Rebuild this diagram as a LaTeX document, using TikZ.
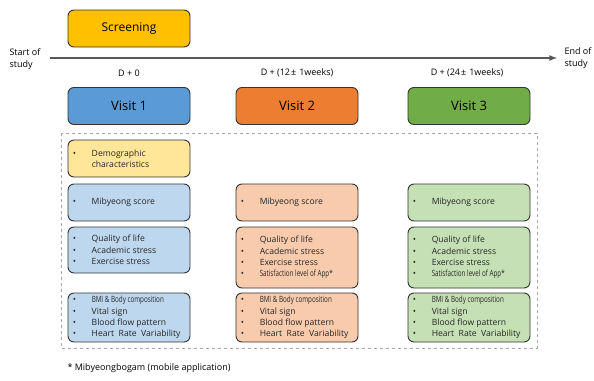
\documentclass[tikz,border=0pt]{standalone}
\usepackage{fontspec}
\setmainfont{Open Sans}
\tikzset{>=latex}
\definecolor{gold}{HTML}{FFC000}
\definecolor{blue1}{HTML}{5B9BD5}
\definecolor{orange1}{HTML}{ED7D31}
\definecolor{green1}{HTML}{70AD47}
\definecolor{yellowL}{HTML}{FFE699}
\definecolor{blueL}{HTML}{BDD7EE}
\definecolor{orangeL}{HTML}{F8CBAD}
\definecolor{greenL}{HTML}{C5E0B4}
\definecolor{edge}{HTML}{333333}
\newcommand{\bl}{\makebox[19pt][l]{\textbullet}}
\newcommand{\narrow}[1]{\scalebox{0.73}[1]{#1}}

\begin{document}
\begin{tikzpicture}[x=1pt,y=-1pt,
    card/.style={draw=edge,line width=0.9pt,rounded corners=6pt,minimum width=122pt,inner sep=0pt},
    head/.style={card,minimum height=37pt,font=\fontsize{13}{15}\selectfont},
    items/.style={align=left,anchor=west,inner sep=0pt,font=\fontsize{8.6}{11.4}\selectfont,text=black!85}
  ]
  \useasboundingbox (0,0) rectangle (594,380);
  % timeline
  \draw[->,line width=1.6pt,black!65] (50,58) -- (557,58);
  \node[align=left,anchor=west,font=\fontsize{9}{12}\selectfont] (start) at (6,59) {Start of\\study};
  \node[align=left,anchor=west,font=\fontsize{9}{12}\selectfont] (end) at (561,58) {End of\\study};
  \node[card,fill=gold,minimum height=37pt,font=\fontsize{12}{14}\selectfont] (screen) at (129,28.5) {Screening};
  % visits
  \node[font=\fontsize{9}{11}\selectfont] (d1) at (129,73) {D + 0};
  \node[font=\fontsize{9}{11}\selectfont] (d2) at (297,73) {D + (12\kern1pt±\kern3pt 1weeks)};
  \node[font=\fontsize{9}{11}\selectfont] (d3) at (467,73) {D + (24\kern1pt±\kern3pt 1weeks)};
  \node[head,fill=blue1] (v1) at (129,106) {Visit 1};
  \node[head,fill=orange1] (v2) at (297,106) {Visit 2};
  \node[head,fill=green1] (v3) at (469,106) {Visit 3};
  % outcomes
  \draw[dashed,black!35,line width=0.6pt] (61,133) rectangle (537,348);
  \node[card,fill=yellowL,minimum height=37pt] (demo) at (129,158.5) {};
  \node[items] (demoT) at ([xshift=5pt]demo.west) {\bl Demographic\\\hspace*{19pt}characteristics};
  \foreach \c/\x/\f in {1/129/blueL,2/297/orangeL,3/469/greenL}{
    \node[card,fill=\f,minimum height=37pt] (mib\c) at (\x,202.5) {};
    \node[items] (mibT\c) at ([xshift=5pt]mib\c.west) {\bl Mibyeong score};
    \node[card,fill=\f,minimum height=49pt] (bmi\c) at (\x,317.5) {};
    \node[items] (bmiT\c) at ([xshift=5pt]bmi\c.west)
      {\bl\narrow{BMI \& Body composition}\\\bl Vital sign\\\bl Blood flow pattern\\\bl Heart\ \ Rate\ \ Variability};
  }
  \node[card,fill=blueL,minimum height=46pt] (qol1) at (129,250) {};
  \node[items] (qolT1) at ([xshift=5pt]qol1.west) {\bl Quality of life\\\bl Academic stress\\\bl Exercise stress};
  \foreach \c/\x/\f in {2/297/orangeL,3/469/greenL}{
    \node[card,fill=\f,minimum height=61pt] (qol\c) at (\x,257.5) {};
    \node[items] (qolT\c) at ([xshift=5pt]qol\c.west)
      {\bl Quality of life\\\bl Academic stress\\\bl Exercise stress\\\bl\narrow{Satisfaction level of App*}};
  }
  \node[anchor=west,font=\fontsize{9}{11}\selectfont] (note) at (64,368) {* Mibyeongbogam (mobile application)};
\end{tikzpicture}
\end{document}
